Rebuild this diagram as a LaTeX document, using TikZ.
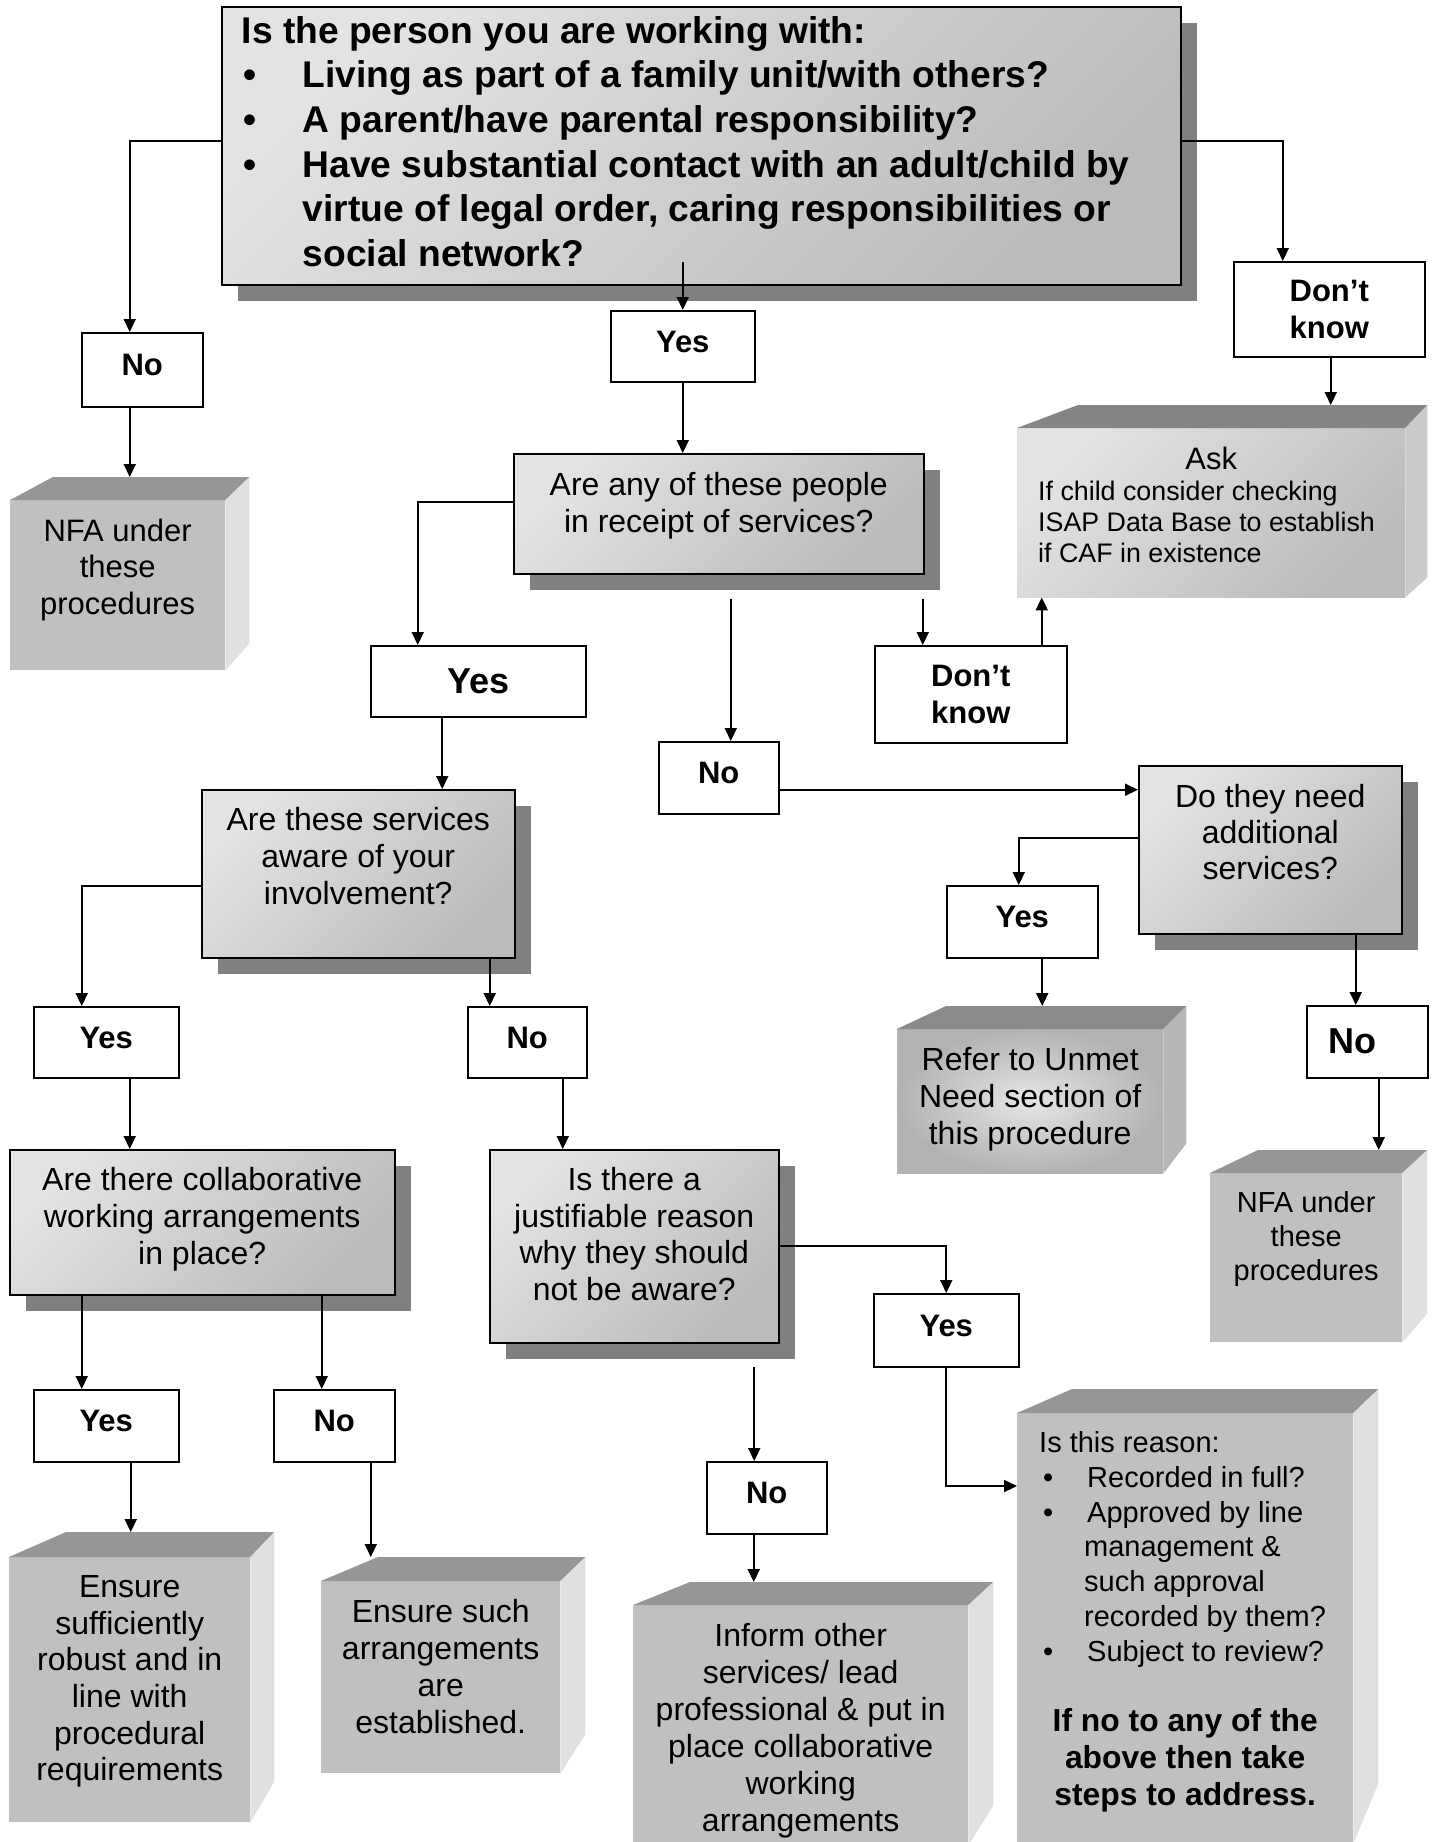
\documentclass[tikz,border=0pt]{standalone}
\usepackage{fontspec}
\setmainfont{Liberation Sans}
\usetikzlibrary{arrows.meta,calc,shadows}

\definecolor{boxlight}{HTML}{E3E3E3}
\definecolor{boxdark}{HTML}{BBBBBB}
\definecolor{shadowgray}{HTML}{808080}
\definecolor{cubefront}{HTML}{C0C0C0}
\definecolor{cubetop}{HTML}{969696}
\definecolor{cubeside}{HTML}{E0E0E0}
\definecolor{asktop}{HTML}{858585}
\definecolor{askside}{HTML}{CBCBCB}
\definecolor{refertop}{HTML}{8A8A8A}
\definecolor{referside}{HTML}{B6B6B6}
\definecolor{referinner}{HTML}{E6E6E6}
\definecolor{referouter}{HTML}{B2B2B2}

% fixed-size text block, set from the top
\newcommand\boxtxt[4]{\parbox[c][#2pt][t]{#1pt}{\centering\vspace*{#3pt}#4\par}}

\tikzset{
  question/.style={draw, line width=1.5pt, inner sep=0pt, anchor=north west,
    top color=boxlight, bottom color=boxdark, shading angle=45,
    drop shadow={shadow xshift=16pt, shadow yshift=-16pt, fill=shadowgray, opacity=1},
    font=\fontsize{32}{37}\selectfont},
  anbox/.style={draw, line width=1.5pt, fill=white, inner sep=0pt, anchor=north west,
    align=center, font=\bfseries\fontsize{31}{37}\selectfont},
  ans/.style={anbox, text height=23pt, text depth=11pt},
  bigans/.style={anbox, font=\bfseries\fontsize{36}{42}\selectfont},
  cube/.style={fill=cubefront, inner sep=0pt, anchor=north west,
    font=\fontsize{32}{37}\selectfont},
  arr/.style={line width=2pt, -{Triangle[length=13pt,width=12pt]}}
}

\begin{document}
\begin{tikzpicture}[x=1pt, y=-1pt]
  \fill[white, use as bounding box] (0,0) rectangle (1435,1842);

  % Opening question
  \node[question] (top) at (221,6) {\boxtxt{959}{278}{9.6}{\raggedright\leftskip=20pt
    \bfseries\fontsize{37.2}{44.6}\selectfont
    Is the person you are working with:\\
    \makebox[61pt][l]{\hspace{2pt}\textbullet}Living as part of a family unit/with others?\\
    \makebox[61pt][l]{\hspace{2pt}\textbullet}A parent/have parental responsibility?\\
    \makebox[61pt][l]{\hspace{2pt}\textbullet}Have substantial contact with an adult/child by\\
    \hspace*{61pt}virtue of legal order, caring responsibilities or\\
    \hspace*{61pt}social network?}};

  % First answers
  \node[ans, minimum width=121pt, minimum height=74pt] (no1) at (81,332) {No};
  \node[ans, minimum width=144pt, minimum height=71pt] (yes1) at (610,310) {Yes};
  \node[anbox, minimum width=191pt, minimum height=95pt] (dk1) at (1233,261) {Don’t\\know};

  % Outcomes of first level
  \node[cube] (nfa1) at (10,500) {\boxtxt{215}{170}{18.8}{\fontsize{31}{36.5}\selectfont
    NFA under\\these\\procedures}};
  \node[cube, top color=boxlight, bottom color=boxdark, shading angle=45] (ask) at (1017,428)
    {\boxtxt{388}{169}{18.5}{\fontsize{31}{36}\selectfont Ask\par
    \raggedright\leftskip=21pt\fontsize{26.8}{31}\selectfont
    If child consider checking\\ISAP Data Base to establish\\if CAF in existence}};

  % Services
  \node[question] (any) at (513,453) {\boxtxt{410}{120}{18.5}{Are any of these people\\in receipt of services?}};
  \node[bigans, minimum width=215pt, minimum height=71pt] (yes2) at (370,645) {Yes};
  \node[anbox, minimum width=192pt, minimum height=97pt] (dk2) at (874,645) {Don’t\\know};
  \node[ans, minimum width=120pt, minimum height=72pt] (no3) at (658,741) {No};

  \node[question] (aware) at (201,789) {\boxtxt{313}{168}{17.5}{Are these services\\aware of your\\involvement?}};
  \node[question] (need) at (1138,765) {\boxtxt{263}{168}{18.5}{\fontsize{32}{36}\selectfont
    Do they need\\additional\\services?}};
  \node[ans, minimum width=151pt, minimum height=72pt] (yes6) at (946,885) {Yes};

  \node[ans, minimum width=145pt, minimum height=71pt] (yes3) at (33,1006) {Yes};
  \node[ans, minimum width=119pt, minimum height=71pt] (no2) at (467,1006) {No};
  \node[bigans, minimum width=121pt, minimum height=72pt] (no6) at (1306,1005) {No\hspace*{30pt}};

  \node[cube, inner color=referinner, outer color=referouter] (refer) at (897,1029)
    {\boxtxt{266}{144}{17.8}{\fontsize{32}{37}\selectfont Refer to Unmet\\Need section of\\this procedure}};
  \node[cube] (nfa2) at (1210,1173) {\boxtxt{192}{169}{18}{\fontsize{29}{34}\selectfont
    NFA under\\these\\procedures}};

  % Arrangements
  \node[question] (collab) at (9,1149) {\boxtxt{385}{145}{17.5}{Are there collaborative\\working arrangements\\in place?}};
  \node[question] (justify) at (489,1149) {\boxtxt{289}{193}{18}{\fontsize{32}{36.5}\selectfont
    Is there a\\justifiable reason\\why they should\\not be aware?}};
  \node[ans, minimum width=145pt, minimum height=73pt] (yes5) at (873,1293) {Yes};
  \node[ans, minimum width=145pt, minimum height=72pt] (yes4) at (33,1389) {Yes};
  \node[ans, minimum width=121pt, minimum height=72pt] (no4) at (273,1389) {No};
  \node[ans, minimum width=120pt, minimum height=72pt] (no5) at (706,1461) {No};

  % Final outcomes
  \node[cube] (ensure1) at (9,1557) {\boxtxt{241}{265}{18.5}{\fontsize{32}{36.6}\selectfont
    Ensure\\sufficiently\\robust and in\\line with\\procedural\\requirements}};
  \node[cube] (ensure2) at (321,1581) {\boxtxt{239}{192}{18}{Ensure such\\arrangements\\are\\established.}};
  \node[cube] (inform) at (633,1605) {\boxtxt{335}{240}{18.5}{Inform other\\services/ lead\\professional \& put in\\place collaborative\\working\\arrangements}};
  \node[cube] (reason) at (1017,1413) {\boxtxt{336}{430}{18.6}{\raggedright\leftskip=22pt
    \fontsize{29}{34.7}\selectfont
    Is this reason:\\
    \makebox[48pt][l]{\hspace{4pt}\textbullet}Recorded in full?\\
    \makebox[48pt][l]{\hspace{4pt}\textbullet}Approved by line\\
    \hspace*{45pt}management \&\\
    \hspace*{45pt}such approval\\
    \hspace*{45pt}recorded by them?\\
    \makebox[48pt][l]{\hspace{4pt}\textbullet}Subject to review?\par
    \vspace{33pt}
    {\centering\bfseries\fontsize{31.8}{37}\selectfont If no to any of the\\above then take\\steps to address.\par}}};

  % Cube tops and sides
  \fill[cubetop] (nfa1.north west) -- ++(43,-23) -- ($(nfa1.north east)+(24,-23)$) -- (nfa1.north east) -- cycle;
  \fill[cubeside] (nfa1.north east) -- ++(24,-23) -- ($(nfa1.south east)+(24,-27)$) -- (nfa1.south east) -- cycle;
  \fill[asktop] (ask.north west) -- ++(61,-23) -- ($(ask.north east)+(22,-23)$) -- (ask.north east) -- cycle;
  \fill[askside] (ask.north east) -- ++(22,-23) -- ($(ask.south east)+(22,-20)$) -- (ask.south east) -- cycle;
  \fill[refertop] (refer.north west) -- ++(49,-23) -- ($(refer.north east)+(23,-23)$) -- (refer.north east) -- cycle;
  \fill[referside] (refer.north east) -- ++(23,-23) -- ($(refer.south east)+(23,-30)$) -- (refer.south east) -- cycle;
  \fill[cubetop] (nfa2.north west) -- ++(48,-23) -- ($(nfa2.north east)+(25,-23)$) -- (nfa2.north east) -- cycle;
  \fill[cubeside] (nfa2.north east) -- ++(25,-23) -- ($(nfa2.south east)+(25,-29)$) -- (nfa2.south east) -- cycle;
  \fill[cubetop] (ensure1.north west) -- ++(57,-25) -- ($(ensure1.north east)+(24,-25)$) -- (ensure1.north east) -- cycle;
  \fill[cubeside] (ensure1.north east) -- ++(24,-25) -- ($(ensure1.south east)+(24,-41)$) -- (ensure1.south east) -- cycle;
  \fill[cubetop] (ensure2.north west) -- ++(57,-24) -- ($(ensure2.north east)+(25,-24)$) -- (ensure2.north east) -- cycle;
  \fill[cubeside] (ensure2.north east) -- ++(25,-24) -- ($(ensure2.south east)+(25,-39)$) -- (ensure2.south east) -- cycle;
  \fill[cubetop] (inform.north west) -- ++(57,-23) -- ($(inform.north east)+(25,-23)$) -- (inform.north east) -- cycle;
  \fill[cubeside] (inform.north east) -- ++(25,-23) -- ($(inform.south east)+(25,-40)$) -- (inform.south east) -- cycle;
  \fill[cubetop] (reason.north west) -- ++(55,-24) -- ($(reason.north east)+(25,-24)$) -- (reason.north east) -- cycle;
  \fill[cubeside] (reason.north east) -- ++(25,-24) -- ($(reason.south east)+(25,-60)$) -- (reason.south east) -- cycle;

  % Back edges of the cube tops
  \coordinate (nfa1-b) at ($(nfa1.north)+(0,-23)$);
  \coordinate (ask-b) at ($(ask.north)+(0,-23)$);
  \coordinate (refer-b) at ($(refer.north)+(0,-23)$);
  \coordinate (nfa2-b) at ($(nfa2.north)+(0,-23)$);
  \coordinate (ensure1-b) at ($(ensure1.north)+(0,-25)$);
  \coordinate (ensure2-b) at ($(ensure2.north)+(0,-24)$);
  \coordinate (inform-b) at ($(inform.north)+(0,-23)$);
  \coordinate (reason-in) at ($(reason.north west)+(0,73)$);

  % Connectors
  \draw[arr] ($(top.west)+(0,-5)$) -| ($(no1.north)+(-12.5,0)$);
  \draw[arr] ($(no1.south)+(-12.5,0)$) -- ($(no1.south |- nfa1-b)+(-12.5,0)$);
  \draw[arr] ($(top.south -| yes1.north)+(0,-24)$) -- (yes1.north);
  \draw[arr] ($(top.east)+(0,-5)$) -| ($(dk1.north)+(-46.5,0)$);
  \draw[arr] ($(dk1.south)+(1.5,0)$) -- ($(dk1.south |- ask-b)+(1.5,0)$);
  \draw[arr] (yes1.south) -- (yes1.south |- any.north);
  \draw[arr] ($(any.west)+(0,-12)$) -| ($(yes2.north)+(-60.5,0)$);
  \draw[arr] ($(any.south -| dk2.north)+(-48,24)$) -- ($(dk2.north)+(-48,0)$);
  \draw[arr] ($(dk2.north)+(71,0)$) -- ($(dk2.north |- ask.south)+(71,0)$);
  \draw[arr] ($(any.south)+(12,24)$) -- ($(any.south |- no3.north)+(12,0)$);
  \draw[arr] ($(no3.east)+(0,12)$) -- ($(no3.east -| need.west)+(0,12)$);
  \draw[arr] ($(need.west)+(0,-12)$) -| ($(yes6.north)+(-3.5,0)$);
  \draw[arr] ($(yes6.south)+(20,0)$) -- ($(yes6.south |- refer-b)+(20,0)$);
  \draw[arr] ($(need.south)+(85.5,0)$) -- ($(need.south |- no6.north)+(85.5,0)$);
  \draw[arr] ($(no6.south)+(11.5,0)$) -- ($(no6.south |- nfa2-b)+(11.5,0)$);
  \draw[arr] ($(yes2.south)+(-36,0)$) -- ($(yes2.south |- aware.north)+(-36,0)$);
  \draw[arr] ($(aware.west)+(0,12)$) -| ($(yes3.north)+(-24.5,0)$);
  \draw[arr] ($(aware.south)+(131.5,0)$) -- ($(aware.south |- no2.north)+(131.5,0)$);
  \draw[arr] ($(yes3.south)+(23.5,0)$) -- ($(yes3.south |- collab.north)+(23.5,0)$);
  \draw[arr] ($(no2.south)+(35.5,0)$) -- ($(no2.south |- justify.north)+(35.5,0)$);
  \draw[arr] ($(collab.south)+(-120.5,0)$) -- ($(collab.south |- yes4.north)+(-120.5,0)$);
  \draw[arr] ($(collab.south)+(119.5,0)$) -- ($(collab.south |- no4.north)+(119.5,0)$);
  \draw[arr] ($(yes4.south)+(24.5,0)$) -- ($(yes4.south |- ensure1-b)+(24.5,0)$);
  \draw[arr] ($(no4.south)+(36.5,0)$) -- ($(no4.south |- ensure2-b)+(36.5,0)$);
  \draw[arr] (justify.east) -| (yes5.north);
  \draw[arr] (yes5.south) |- (reason-in);
  \draw[arr] ($(justify.south)+(120,23)$) -- ($(justify.south |- no5.north)+(120,0)$);
  \draw[arr] ($(no5.south)+(-13,0)$) -- ($(no5.south |- inform-b)+(-13,0)$);
\end{tikzpicture}
\end{document}
